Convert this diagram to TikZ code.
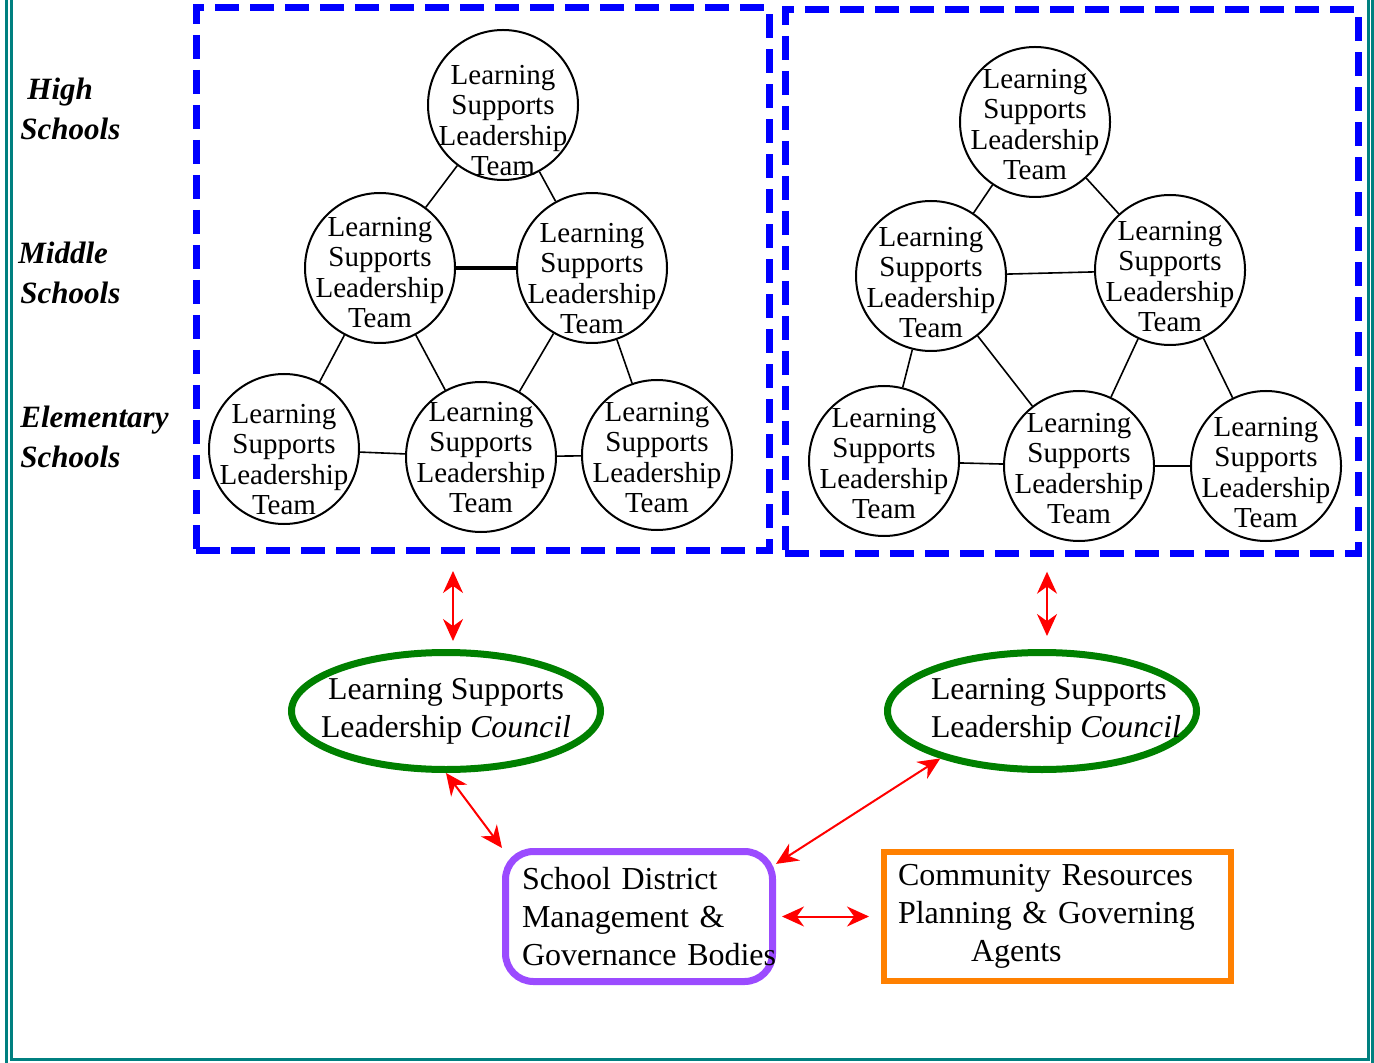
\documentclass[tikz,border=0pt]{standalone}
\usepackage{fontspec}
\setmainfont{Liberation Serif}
\usepackage{tikz}
\usetikzlibrary{arrows.meta,shapes.geometric}
\definecolor{frameteal}{RGB}{0,128,128}
\definecolor{boxblue}{RGB}{0,0,255}
\definecolor{councilgreen}{RGB}{0,128,0}
\definecolor{districtpurple}{RGB}{155,75,255}
\definecolor{communityorange}{RGB}{255,128,0}
\tikzset{
    team/.style = {circle, draw, line width=1pt, minimum size=75pt, inner sep=-15pt, align=center, font=\fontsize{14.5}{15.25}\selectfont},
    tie/.style = {line width=0.8pt},
    level/.style = {anchor=west, inner sep=0pt, align=left, font=\fontsize{15.5}{20}\selectfont\bfseries\itshape},
    region/.style = {draw=boxblue, line width=3.5pt, dash pattern=on 12pt off 5.5pt, inner sep=0pt, minimum width=286.5pt},
    council/.style = {ellipse, draw=councilgreen, line width=3.5pt, minimum width=154.5pt, minimum height=58.5pt, inner xsep=-8.5pt, inner ysep=0pt, font=\fontsize{15.9}{19}\selectfont},
    link/.style = {red, line width=1pt, {Stealth[length=11pt,width=10pt]}-{Stealth[length=11pt,width=10pt]}},
    frame/.style = {frameteal, line width=1.5pt}
}
\newcommand{\lslt}[1][0]{\rule{0pt}{\dimexpr 10pt+#1pt\relax}Learning\\Supports\\Leadership\\Team}
\begin{document}
\begin{tikzpicture}[x=0.5pt, y=-0.5pt]
                            \useasboundingbox (0,0) rectangle (1374,1063);
                            \draw [frame] (6,0) -- (6,1063);
                            \draw [frame] (1372,0) -- (1372,1063);
                            \draw [frame] (11,0) -- (11,1059) -- (1368,1059) -- (1368,0);

                            \node [level] (high) at (20,108.5) {\hspace*{3.5pt}High\\Schools};
                            \node [level] (middle) at (18,272.5) {Middle\\\hspace*{1pt}Schools};
                            \node [level] (elem) at (20,436.5) {Elementary\\Schools};

                            \node [region, minimum height=271pt] (lbox) at (482.5,279) {};
                            \node [region, minimum height=271.5pt] (rbox) at (1071.5,281.5) {};

                            \node [team] (l1) at (503,105) {\lslt[15]};
                            \node [team] (l2) at (380,268) {\lslt[4]};
                            \node [team] (l3) at (592,268) {\lslt[10]};
                            \node [team] (l4) at (284,449) {\lslt[10]};
                            \node [team] (l5) at (481,457) {\lslt};
                            \node [team] (l6) at (657,455) {\lslt[2]};
                            \draw [tie] (l1) -- (l2);
                            \draw [tie] (l1) -- (l3);
                            \draw [line width=2pt] (l2) -- (l3);
                            \draw [tie] (l2) -- (l4);
                            \draw [tie] (l2) -- (l5);
                            \draw [tie] (l3) -- (l5);
                            \draw [tie] (l3) -- (l6);
                            \draw [tie] (l4) -- (l5);
                            \draw [tie] (l5) -- (l6);

                            \node [team] (r1) at (1035,122) {\lslt[2]};
                            \node [team] (r2) at (931,276) {\lslt[6]};
                            \node [team] (r3) at (1170,270) {\lslt[6]};
                            \node [team] (r4) at (884,461) {\lslt[2]};
                            \node [team] (r5) at (1079,466) {\lslt[2]};
                            \node [team] (r6) at (1266,466) {\lslt[6]};
                            \draw [tie] (r1) -- (r2);
                            \draw [tie] (r1) -- (r3);
                            \draw [tie] (r2) -- (r3);
                            \draw [tie] (r2) -- (r4);
                            \draw [tie] (r2) -- (r5);
                            \draw [tie] (r3) -- (r5);
                            \draw [tie] (r3) -- (r6);
                            \draw [tie] (r4) -- (r5);
                            \draw [tie] (r5) -- (r6);

                            \node [council, align=center] (lcouncil) at (446,711) {Learning Supports\\Leadership \textit{Council}};
                            \node [council, align=left, inner xsep=-15.4pt] (rcouncil) at (1042,711) {\hspace*{14pt}Learning Supports\\\hspace*{14pt}Leadership \textit{Council}};

                            \node [rectangle, rounded corners=14pt, draw=districtpurple, line width=3.5pt, minimum height=65pt, text width=117pt, inner xsep=8.25pt, align=left, font=\fontsize{16}{19}\selectfont] (sd) at (639,916.5) {School District\\Management \&\\\mbox{Governance Bodies}};
                            \node [rectangle, draw=communityorange, line width=3pt, minimum height=64.5pt, text width=159.5pt, inner xsep=7pt, align=left, font=\fontsize{16}{19}\selectfont] (cr) at (1057.5,916.5) {Community Resources\\Planning \& Governing\\\hspace*{36.5pt}Agents};

                            \draw [link, shorten <=8.75pt, shorten >=4pt] ([xshift=-14.75pt]lbox.south) -- ([xshift=3.5pt]lcouncil.north);
                            \draw [link, shorten <=7.6pt, shorten >=6.5pt] ([xshift=-12.25pt]rbox.south) -- ([xshift=2.5pt]rcouncil.north);
                            \draw [link] (lcouncil.south) -- (sd.north west);
                            \draw [link] (rcouncil.205) -- (sd.21);
                            \draw [link, shorten <=3pt, shorten >=6pt] (sd.east) -- (cr.west);
                        \end{tikzpicture}
\end{document}
